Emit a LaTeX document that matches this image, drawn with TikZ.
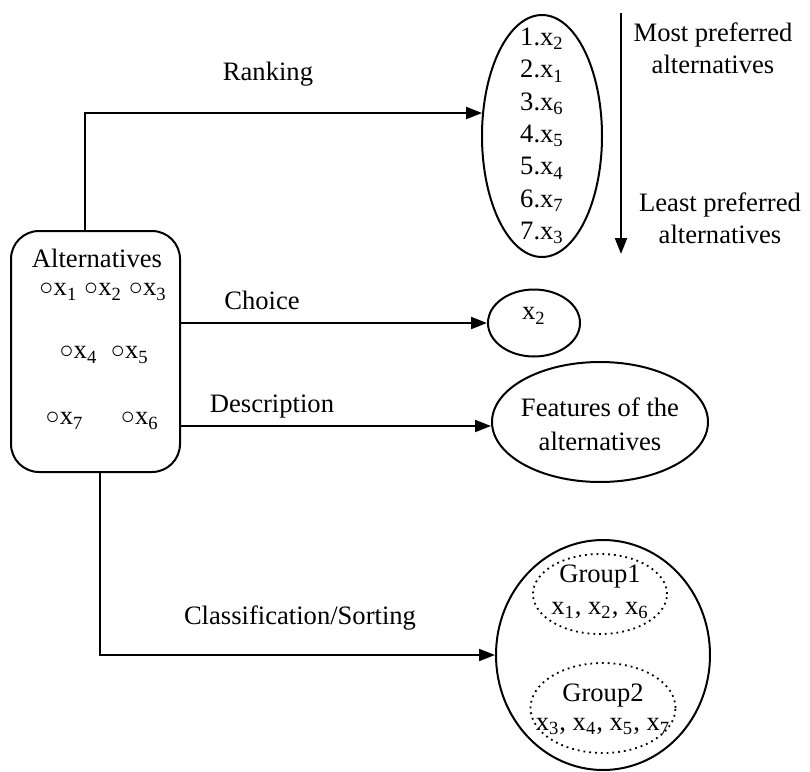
\documentclass[tikz,border=0pt]{standalone}
\usepackage{fontspec}
\setmainfont{Liberation Serif}
\usetikzlibrary{arrows.meta,shapes.geometric}
\newcommand\xsub[1]{x\textsubscript{#1}}
\newcommand\opt[1]{\scalebox{0.9}{○}\xsub{#1}}
\begin{document}
\begin{tikzpicture}[x=0.5pt,y=-0.5pt,
  every node/.style={font=\fontsize{13.3}{16.1}\selectfont, inner sep=0pt},
  arr/.style={line width=1pt,-{Triangle[length=8pt,width=6pt]}},
  oval/.style={draw, ellipse, line width=1pt, inner sep=0pt},
  group/.style={draw, ellipse, line width=0.9pt, dotted, inner sep=0pt},
  txt/.style={align=center}]
\useasboundingbox (0,0) rectangle (810,772);

% alternatives box
\node[draw, rounded corners=14pt, line width=1pt, minimum width=84.5pt, minimum height=120.5pt] (alt) at (95.5,351.5) {};
\node (alttitle) at (97,258) {Alternatives};
\node (row1) at (103,292) {\opt{1} \opt{2} \opt{3}};
\node (row2) at (104,355) {\opt{4}\ \ \opt{5}};
\node (row3) at (102,421) {\opt{7}\hspace{1.4em}\opt{6}};

% outcome ellipses
\node[oval, minimum width=60pt, minimum height=121pt] (rank) at (542,136) {};
\node[txt, font=\fontsize{13.3}{16.15}\selectfont] (ranktxt) at (542,136)
  {1.\xsub{2}\\2.\xsub{1}\\3.\xsub{6}\\4.\xsub{5}\\5.\xsub{4}\\6.\xsub{7}\\7.\xsub{3}};
\node[oval, minimum width=46pt, minimum height=33.5pt] (choice) at (534,323) {};
\node (choicetxt) at (534,316) {\xsub{2}};
\node[oval, minimum width=108pt, minimum height=60pt] (desc) at (600,422) {};
\node[txt, font=\fontsize{13.3}{17}\selectfont] (desctxt) at (600,424) {Features of the\\alternatives};
\node[oval, minimum width=107pt, minimum height=115pt] (cls) at (603,655) {};
\node[group, minimum width=67pt, minimum height=40pt] (g1) at (600,594) {};
\node[txt, font=\fontsize{13.3}{16}\selectfont] (g1txt) at (600,592) {Group1\\\xsub{1}, \xsub{2}, \xsub{6}};
\node[group, minimum width=72.5pt, minimum height=45pt] (g2) at (603,708) {};
\node[txt, font=\fontsize{13.3}{14.5}\selectfont] (g2txt) at (603,709) {Group2\\\xsub{3}, \xsub{4}, \xsub{5}, \xsub{7}};

% preference scale
\coordinate (top) at (621,13);
\coordinate (bot) at (621,254);
\draw[arr] (top) -- (bot);
\node[txt] (most) at (713,48) {Most preferred\\alternatives};
\node[txt] (least) at (720,218) {Least preferred\\alternatives};

% connectors
\draw[arr] (alt.north -| 85,0) |- (rank.159);
\draw[arr] (alt.east |- choice.west) -- (choice.west);
\draw[arr] (alt.east |- 0,426) -- (desc.west |- 0,426);
\draw[arr] (alt.south -| 100,0) |- (cls.west);

% connector labels
\node (lrank) at (268,74) {Ranking};
\node (lchoice) at (262,300) {Choice};
\node (ldesc) at (272,407) {Description};
\node (lcls) at (300,618) {Classification/Sorting};
\end{tikzpicture}
\end{document}
